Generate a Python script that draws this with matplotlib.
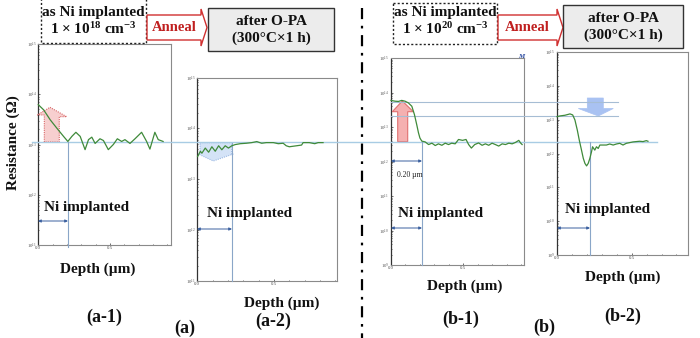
import numpy as np
import matplotlib
matplotlib.use("Agg")
import matplotlib.pyplot as plt
from matplotlib.patches import Polygon, Rectangle
from matplotlib.ticker import LogLocator, LogFormatterMathtext, MultipleLocator, NullFormatter

plt.rcParams['font.family'] = ['Liberation Serif', 'DejaVu Serif']
plt.rcParams['mathtext.fontset'] = 'custom'
plt.rcParams['mathtext.rm'] = 'Liberation Serif:bold'
plt.rcParams['mathtext.it'] = 'Liberation Serif:italic:bold'
plt.rcParams['mathtext.bf'] = 'Liberation Serif:bold'

# ---- data (depth in um, resistance in ohm) ----
a1_depth = [0.0, 0.037, 0.083, 0.13, 0.176, 0.206, 0.234, 0.262, 0.292, 0.326, 0.35, 0.373, 0.396, 0.43,
            0.454, 0.488, 0.523, 0.551, 0.581, 0.604, 0.639, 0.674, 0.72, 0.755, 0.778, 0.8125, 0.836, 0.87]
a1_res = [6.2e13, 4.9e13, 3.1e13, 2.1e13, 1.45e13, 1.15e13, 1.45e13, 1.75e13, 1.45e13, 7.9e12, 1.25e13,
          1.4e13, 1.05e13, 1.3e13, 1.2e13, 7.9e12, 1.0e13, 1.3e13, 1.15e13, 1.25e13, 1.05e13, 1.3e13,
          1.75e13, 1.15e13, 8.1e12, 1.75e13, 1.25e13, 1.15e13]

a2_depth = [0.002, 0.02, 0.03, 0.052, 0.074, 0.095, 0.117, 0.139, 0.16, 0.182, 0.203, 0.225, 0.247, 0.28,
            0.32, 0.355, 0.388, 0.42, 0.45, 0.496, 0.528, 0.56, 0.58, 0.60, 0.647, 0.68, 0.69, 0.73,
            0.766, 0.788, 0.82]
a2_res = [2.8e13, 3.55e13, 3.25e13, 4.1e13, 3.4e13, 4.35e13, 3.55e13, 4.55e13, 3.8e13, 4.55e13, 4.1e13,
          4.55e13, 4.8e13, 5.0e13, 5.1e13, 5.25e13, 5.5e13, 5.1e13, 5.25e13, 5.25e13, 5.0e13, 5.1e13,
          4.55e13, 4.35e13, 4.55e13, 4.7e13, 5.25e13, 5.25e13, 5.0e13, 5.25e13, 5.25e13]

b1_depth = [0.0, 0.028, 0.051, 0.074, 0.097, 0.12, 0.144, 0.162, 0.178, 0.19, 0.20, 0.213, 0.236, 0.26,
            0.283, 0.306, 0.328, 0.352, 0.375, 0.398, 0.42, 0.444, 0.467, 0.495, 0.519, 0.537, 0.556,
            0.579, 0.606, 0.63, 0.653, 0.676, 0.699, 0.722, 0.745, 0.769, 0.792, 0.815, 0.838, 0.86,
            0.884, 0.896, 0.907]
b1_res = [5.9e13, 5.6e13, 5.5e13, 5.9e13, 5.6e13, 5.0e13, 4.0e13, 2.3e13, 1.17e13, 6.8e12, 4.8e12, 3.9e12,
          3.7e12, 3.1e12, 3.4e12, 2.9e12, 3.25e12, 2.95e12, 3.4e12, 3.1e12, 3.4e12, 3.25e12, 4.35e12,
          4.1e12, 4.35e12, 3.1e12, 2.45e12, 3.1e12, 3.45e12, 2.95e12, 3.25e12, 2.95e12, 3.4e12, 3.1e12,
          2.8e12, 3.25e12, 3.1e12, 3.4e12, 3.25e12, 3.55e12, 4.1e12, 3.45e12, 3.1e12]

b2_depth = [0.0, 0.02, 0.053, 0.087, 0.105, 0.12, 0.136, 0.149, 0.164, 0.176, 0.187, 0.198, 0.209, 0.22,
            0.231, 0.238, 0.253, 0.264, 0.276, 0.287, 0.309, 0.331, 0.353, 0.376, 0.398, 0.42, 0.442,
            0.464, 0.487, 0.509, 0.531, 0.553, 0.576, 0.598, 0.609]
b2_res = [1.23e13, 1.29e13, 1.35e13, 1.48e13, 1.38e13, 9.8e12, 4.9e12, 2.5e12, 1.26e12, 7.2e11, 5.1e11,
          4.3e11, 5.1e11, 7.2e11, 1.12e12, 1.58e12, 1.26e12, 1.58e12, 1.41e12, 1.78e12, 1.78e12, 1.78e12,
          1.91e12, 1.78e12, 1.91e12, 2.0e12, 1.78e12, 2.0e12, 2.1e12, 2.2e12, 2.25e12, 2.3e12, 2.25e12,
          2.4e12, 2.3e12]

panel_tags = ['(a-1)', '(a-2)', '(b-1)', '(b-2)']
group_tags = ['(a)', '(b)']
dose_exp = ['18', '20']

W, H = 700, 338
fig = plt.figure(figsize=(7, 3.38), dpi=100)


def px_axes(x0, y0, x1, y1):
    return fig.add_axes([x0 / W, 1 - y1 / H, (x1 - x0) / W, (y1 - y0) / H])


def style(ax, xmax, ymin):
    ax.set_yscale('log')
    ax.set_ylim(ymin, 1e15)
    ax.set_xlim(0, xmax)
    ax.yaxis.set_major_locator(LogLocator(base=10, numticks=10))
    ax.yaxis.set_major_formatter(LogFormatterMathtext())
    ax.yaxis.set_minor_locator(LogLocator(base=10, subs=np.arange(2, 10), numticks=20))
    ax.yaxis.set_minor_formatter(NullFormatter())
    ax.xaxis.set_major_locator(MultipleLocator(0.5))
    ax.xaxis.set_minor_locator(MultipleLocator(0.1))
    ax.xaxis.set_major_formatter(lambda v, p: f"{v:.1f}")
    ax.tick_params(which='both', direction='in', labelsize=3.5, labelcolor='#555555',
                   length=1.5, width=0.5, pad=1, color='#333333')
    ax.tick_params(which='minor', length=1)
    for s in ['top', 'right', 'bottom']:
        ax.spines[s].set_color('#8a8a8a')
        ax.spines[s].set_linewidth(0.8)
    ax.spines['left'].set_color('#333333')
    ax.spines['left'].set_linestyle((0, (1, 1)))
    ax.spines['left'].set_linewidth(0.9)


green = '#3f8a3a'
ax1 = px_axes(38.3, 44, 171, 245)
style(ax1, 0.925, 1e11)

ax2 = px_axes(197.3, 77.5, 336.7, 281)
style(ax2, 0.909, 1e11)

ax3 = px_axes(391, 58, 524, 265)
style(ax3, 0.92, 1e9)

ax4 = px_axes(557, 52, 688, 255)
style(ax4, 0.877, 1e9)

# ---- overlay in pixel coordinates for the annotations ----
ov = fig.add_axes([0, 0, 1, 1], zorder=10)
ov.set_xlim(0, W)
ov.set_ylim(H, 0)
ov.axis('off')
ov.patch.set_alpha(0)

bold = dict(fontweight='bold', color='#111111')

# reference lines
ov.plot([32, 657], [142, 142], color='#a8cce4', lw=1.0)
ov.plot([391, 618], [102, 102], color='#a6bdd4', lw=0.8)
ov.plot([391, 618], [116, 116], color='#a6bdd4', lw=0.8)
for x, y0, y1 in [(68, 142, 247), (232, 143, 281), (422, 142, 265), (590, 142, 255)]:
    ov.plot([x, x], [y0, y1], color='#8aa6c8', lw=0.8)

# double arrows for the implanted range
for x0, x1, y in [(38, 68, 221), (197, 232, 229), (391, 422, 228), (391, 422, 161), (557, 590, 228)]:
    ov.annotate('', xy=(x1, y), xytext=(x0, y),
                arrowprops=dict(arrowstyle='<|-|>', color='#3a5f9f', lw=0.7,
                                mutation_scale=4, shrinkA=0, shrinkB=0))
for x, y in [(44, 207), (207, 214), (398, 214), (565, 209)]:
    ov.text(x, y, 'Ni implanted', fontsize=11, ha='left', va='center', **bold)
ov.text(397, 175, '0.20 µm', fontsize=5.5, ha='left', va='center', color='#222222')
ov.text(521, 57, 'M', fontsize=5, ha='center', va='center', color='#2a4aa0',
        fontweight='bold', style='italic')

# change arrows (drawn under the curves)
ov.add_patch(Polygon([(44.3, 142), (44.3, 115), (37.3, 115), (50, 107.3), (66.7, 116.7), (59.3, 116.7),
                      (59.3, 142)], closed=True, facecolor='#f6c4c4', edgecolor='#d04848',
                     lw=0.8, ls=(0, (1, 1)), alpha=0.8, zorder=1))
ov.add_patch(Polygon([(200, 142.7), (231.7, 142.7), (231.7, 154), (233.3, 154), (213.3, 161),
                      (198.3, 154), (200, 154)], closed=True, facecolor='#cddff6',
                     edgecolor='#8fb0e0', lw=0.8, ls=(0, (1, 1)), alpha=0.85, zorder=1))
ov.add_patch(Polygon([(397.7, 141.7), (397.7, 111.7), (392.3, 111.7), (402.3, 101), (413.3, 111.7),
                      (407.7, 111.7), (407.7, 141.7)], closed=True, facecolor='#f5b0b0',
                     edgecolor='#e07070', lw=0.8, zorder=1))
ov.add_patch(Polygon([(587.3, 98), (603.3, 98), (603.3, 108.5), (613.3, 108.5), (598.3, 116),
                      (578.3, 108.5), (587.3, 108.5)], closed=True, facecolor='#a9c2f2',
                     edgecolor='#a9c2f2', lw=0.5, zorder=1))

# curves on top of the arrows, through each panel's own scales
for ax, d, r in [(ax1, a1_depth, a1_res), (ax2, a2_depth, a2_res),
                 (ax3, b1_depth, b1_res), (ax4, b2_depth, b2_res)]:
    ov.plot(d, r, color=green, lw=0.9, transform=ax.transData, zorder=3, clip_on=False)

# headers: as implanted box, anneal arrow, after O-PA box
headers = [(41, -2, 146, 43, 147, 201, 207, 208, 8, 334, 51),
           (393, 3, 497, 44, 498, 557, 563, 563, 5, 683, 48)]
for (bx0, by0, bx1, by1, ax0, ahx, atx, rx0, ry0, rx1, ry1), exp in zip(headers, dose_exp):
    ov.add_patch(Rectangle((bx0, by0), bx1 - bx0, by1 - by0, fill=False, edgecolor='#222222',
                           lw=1.0, ls=(0, (1.5, 1.5))))
    cx = (bx0 + bx1) / 2
    ov.text(cx, 12.5, 'as Ni implanted', fontsize=11, ha='center', va='center', **bold)
    ov.text(cx, 29.5, '1 \u00d7 10$^{' + exp + '}$ cm$^{-3}$', fontsize=11, ha='center',
            va='center', **bold)
    ov.add_patch(Polygon([(ax0, 15), (ahx, 15), (ahx, 9), (atx, 27.5), (ahx, 46), (ahx, 40), (ax0, 40)],
                         closed=True, facecolor='white', edgecolor='#d03030', lw=1.0))
    ov.text((ax0 + ahx) / 2, 27.5, 'Anneal', fontsize=10.5, ha='center', va='center',
            fontweight='bold', color='#c02020')
    ov.add_patch(Rectangle((rx0, ry0), rx1 - rx0, ry1 - ry0, facecolor='#ececec',
                           edgecolor='#333333', lw=1.0))
    rcx, rcy = (rx0 + rx1) / 2, (ry0 + ry1) / 2
    ov.text(rcx, rcy - 8, 'after O-PA', fontsize=11, ha='center', va='center', **bold)
    ov.text(rcx, rcy + 9, '(300\u00b0C\u00d71 h)', fontsize=11, ha='center', va='center', **bold)

# axis titles and panel tags
ov.text(13, 143, 'Resistance (\u03a9)', fontsize=11, rotation=90, ha='center', va='center', **bold)
for x, y in [(98, 269), (282, 303), (465, 286), (623, 277)]:
    ov.text(x, y, 'Depth (µm)', fontsize=11, ha='center', va='center', **bold)
for tag, (x, y) in zip(panel_tags, [(104, 317), (273, 321), (461, 319), (623, 316)]):
    ov.text(x, y, tag, fontsize=13, ha='center', va='center', **bold)
for tag, (x, y) in zip(group_tags, [(185, 328), (544, 327)]):
    ov.text(x, y, tag, fontsize=13, ha='center', va='center', **bold)

# divider
ov.plot([362, 362], [8, 338], color='black', lw=1.6, ls=(0, (5, 3, 1.2, 3)))

fig.savefig('out.png', dpi=100)
